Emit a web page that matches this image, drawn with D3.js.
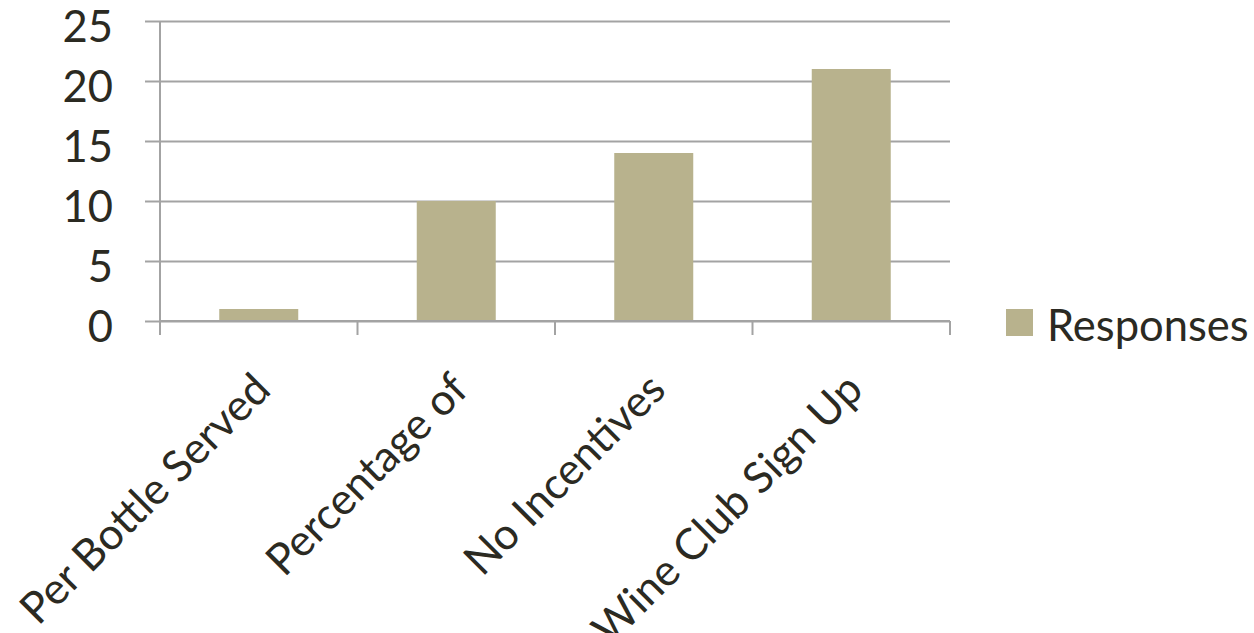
<!DOCTYPE html>
<html>
<head>
<meta charset="utf-8">
<script src="https://cdn.jsdelivr.net/npm/d3@7"></script>
<style>
  html, body { margin: 0; padding: 0; background: #fff; }
  svg { display: block; }
  text { font-family: Lato, "Open Sans", sans-serif; fill: #2b2a22; }
</style>
</head>
<body>
<svg id="chart" width="1254" height="633"></svg>
<script>
// Incentive options and number of responses for each
const categories = ["Per Bottle Served", "Percentage of", "No Incentives", "Wine Club Sign Up"];
const responses = [1, 10, 14, 21];
const yTicks = [0, 5, 10, 15, 20, 25];
const seriesName = "Responses";

const svg = d3.select("#chart");
const plot = { left: 160, right: 950, top: 21, bottom: 321 };
const barColor = "#b8b28d";
const lineColor = "#a3a3a3";
const fontSize = 43.5;

const x = d3.scaleBand()
  .domain(categories)
  .range([plot.left, plot.right])
  .paddingInner(0.6)
  .paddingOuter(0.3);

const y = d3.scaleLinear()
  .domain([0, 25])
  .range([plot.bottom, plot.top]);

// Horizontal gridlines with short ticks to the left of the axis
const yAxis = d3.axisLeft(y)
  .tickValues(yTicks)
  .tickSize(-(plot.right - plot.left))
  .tickSizeOuter(0)
  .tickPadding(0)
  .tickFormat(d3.format("d"));

const gy = svg.append("g")
  .attr("transform", `translate(${plot.left},0)`)
  .call(yAxis);
gy.select(".domain").remove();
gy.selectAll(".tick line")
  .attr("x1", -15)
  .attr("stroke", lineColor)
  .attr("stroke-width", 2);
gy.selectAll(".tick text")
  .attr("x", -47)
  .attr("dy", "0.46em")
  .style("font-size", fontSize + "px")
  .style("font-family", "Lato, sans-serif")
  .attr("fill", "#2b2a22");

// Vertical axis line
svg.append("line")
  .attr("x1", plot.left).attr("x2", plot.left)
  .attr("y1", plot.top).attr("y2", plot.bottom + 14)
  .attr("stroke", lineColor).attr("stroke-width", 2);

// Bars
svg.append("g")
  .selectAll("rect")
  .data(categories.map((c, i) => ({ c, v: responses[i] })))
  .join("rect")
  .attr("x", d => x(d.c))
  .attr("width", x.bandwidth())
  .attr("y", d => y(d.v))
  .attr("height", d => y(0) - y(d.v))
  .attr("fill", barColor);

// Category axis: baseline plus ticks on the category boundaries
const edges = [plot.left, ...categories.slice(1).map(c => x(c) - x.step() * x.paddingInner() / 2), plot.right];
const gx = svg.append("g");
gx.append("line")
  .attr("x1", plot.left).attr("x2", plot.right)
  .attr("y1", plot.bottom).attr("y2", plot.bottom)
  .attr("stroke", lineColor).attr("stroke-width", 2);
gx.selectAll("line.tk")
  .data(edges)
  .join("line")
  .attr("class", "tk")
  .attr("x1", d => d).attr("x2", d => d)
  .attr("y1", plot.bottom).attr("y2", plot.bottom + 14)
  .attr("stroke", lineColor).attr("stroke-width", 2);

// Rotated category labels, ending just under each category centre
gx.selectAll("text")
  .data(categories)
  .join("text")
  .attr("text-anchor", "end")
  .attr("transform", d => `translate(${x(d) + x.bandwidth() / 2 + 14},${plot.bottom + 71}) rotate(-45)`)
  .style("font-size", fontSize + "px")
  .text(d => d);

// Legend
const legend = svg.append("g").attr("transform", "translate(1006,309)");
legend.append("rect")
  .attr("width", 27).attr("height", 27)
  .attr("fill", barColor);
legend.append("text")
  .attr("x", 41)
  .attr("y", 32)
  .style("font-size", fontSize + "px")
  .text(seriesName);
</script>
</body>
</html>
